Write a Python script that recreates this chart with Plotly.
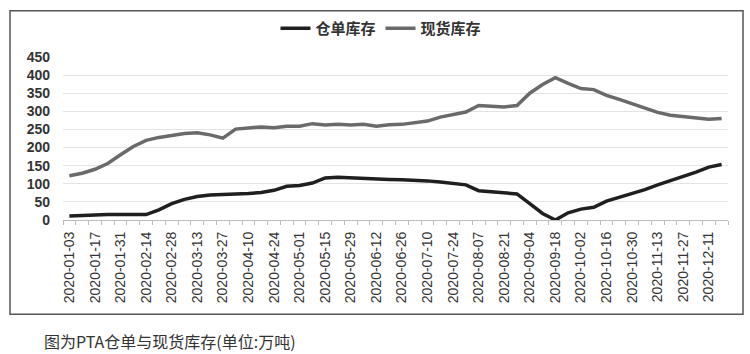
import plotly.graph_objects as go

dates = [
    "2020-01-03", "2020-01-10", "2020-01-17", "2020-01-24", "2020-01-31", "2020-02-07",
    "2020-02-14", "2020-02-21", "2020-02-28", "2020-03-06", "2020-03-13", "2020-03-20",
    "2020-03-27", "2020-04-03", "2020-04-10", "2020-04-17", "2020-04-24", "2020-04-30",
    "2020-05-01", "2020-05-08", "2020-05-15", "2020-05-22", "2020-05-29", "2020-06-05",
    "2020-06-12", "2020-06-19", "2020-06-26", "2020-07-03", "2020-07-10", "2020-07-17",
    "2020-07-24", "2020-07-31", "2020-08-07", "2020-08-14", "2020-08-21", "2020-08-28",
    "2020-09-04", "2020-09-11", "2020-09-18", "2020-09-25", "2020-10-02", "2020-10-09",
    "2020-10-16", "2020-10-23", "2020-10-30", "2020-11-06", "2020-11-13", "2020-11-20",
    "2020-11-27", "2020-12-04", "2020-12-11", "2020-12-18",
]

warrant_stock = [
    11, 13, 15, 15, 15, 15, 15, 28, 45, 57, 65, 69, 70, 71, 73, 76, 82, 93,
    95, 102, 116, 118, 116, 114, 113, 112, 111, 110, 108, 105, 100, 97, 81, 78,
    76, 72, 45, 18, 0, 20, 30, 35, 52, 62, 72, 84, 97, 108, 120, 132, 146, 153,
]

spot_stock = [
    122, 129, 140, 156, 180, 203, 220, 228, 233, 239, 241, 235, 226, 251, 254, 257,
    255, 259, 259, 266, 262, 264, 262, 264, 259, 263, 264, 268, 273, 284, 290, 298,
    316, 314, 312, 316, 350, 374, 393, 377, 363, 360, 344, 333, 321, 309, 297, 289,
    285, 282, 278, 280,
]

series_names = ["仓单库存", "现货库存"]
y_ticks = [0, 50, 100, 150, 200, 250, 300, 350, 400, 450]
tick_text = [d if i % 2 == 0 else "" for i, d in enumerate(dates)]

fig = go.Figure()
fig.add_trace(go.Scatter(x=dates, y=warrant_stock, mode="lines", name=series_names[0],
                         line=dict(color="#1f1f1f", width=3.5)))
fig.add_trace(go.Scatter(x=dates, y=spot_stock, mode="lines", name=series_names[1],
                         line=dict(color="#6a6a6a", width=3.5)))

L, R, T, B = 63, 22, 54, 134
pw = 750 - L - R
ph = 354 - T - B

def px_x(p):
    return (p - L) / pw

def px_y(p):
    return (354 - B - p) / ph

fig.update_layout(
    width=750, height=354,
    margin=dict(l=L, r=R, t=T, b=B),
    paper_bgcolor="white", plot_bgcolor="white",
    showlegend=True,
    legend=dict(orientation="h", x=px_x(381), xanchor="center", y=px_y(25), yanchor="middle",
                font=dict(family="Noto Sans CJK SC", size=15, color="#333333", weight="bold"),
                itemwidth=30, bgcolor="rgba(0,0,0,0)", tracegroupgap=0),
    xaxis=dict(type="category", range=[-0.5, len(dates) - 0.5],
               tickmode="array", tickvals=dates, ticktext=tick_text,
               tickson="boundaries", ticks="outside", ticklen=4, tickcolor="#bdbdbd",
               tickangle=-90, showgrid=False, showline=True, linecolor="#bdbdbd", linewidth=1,
               tickfont=dict(family="Liberation Sans, Arial", size=14, color="#333333"),
               ticklabelstandoff=5),
    yaxis=dict(range=[0, 450], tickvals=y_ticks, showgrid=True, gridcolor="#e3e3e3", gridwidth=1,
               zeroline=False, showline=False, ticks="",
               tickfont=dict(family="Liberation Sans, Arial", size=14, color="#333333", weight="bold"),
               ticklabelstandoff=12),
    shapes=[dict(type="rect", xref="paper", yref="paper",
                 x0=px_x(10), x1=px_x(743), y0=px_y(316), y1=px_y(7),
                 line=dict(color="#555555", width=1.5), fillcolor="rgba(0,0,0,0)", layer="below")],
    annotations=[dict(text="图为PTA仓单与现货库存(单位:万吨)", xref="paper", yref="paper",
                      x=px_x(42), y=px_y(343), xanchor="left", yanchor="middle", showarrow=False,
                      font=dict(family="Noto Sans CJK SC", size=16, color="#333333"))],
)

fig.write_html("out.html")
